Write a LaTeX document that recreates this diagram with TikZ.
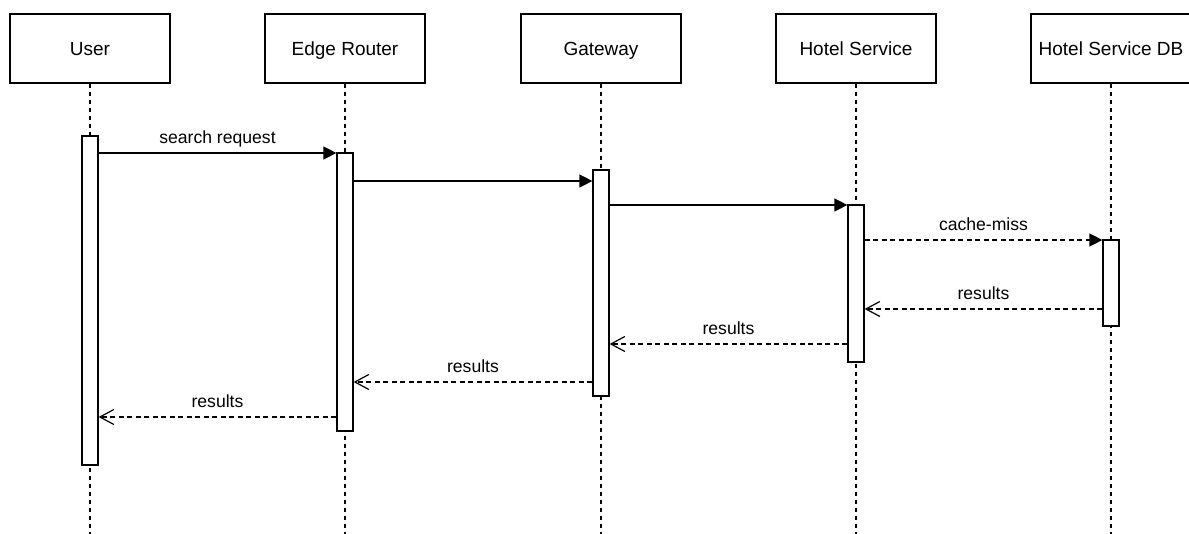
\documentclass[tikz,border=0pt]{standalone}
\usepackage{fontspec}
\setmainfont{Liberation Sans}
\usetikzlibrary{arrows.meta}

\begin{document}
\begin{tikzpicture}[x=1pt,y=-1pt,line width=1.2pt]
\tikzstyle{actor}=[draw,minimum width=160pt,minimum height=69pt,inner sep=0pt,font=\fontsize{19}{22}\selectfont,text height=14pt,text depth=0pt]
\tikzstyle{bar}=[draw,fill=white,minimum width=16pt,inner sep=0pt]
\tikzstyle{lifeline}=[dash pattern=on 4pt off 4pt]
\tikzstyle{msg}=[-{Triangle[length=13pt,width=13pt]}]
\tikzstyle{call}=[msg,dash pattern=on 5pt off 3.5pt]
\tikzstyle{reply}=[-{Straight Barb[length=14pt,width=15pt]},dash pattern=on 5pt off 3.5pt]
\tikzstyle{lbl}=[anchor=base,yshift=9pt,inner sep=0pt,font=\fontsize{17.6}{20}\selectfont]
\clip (0,0) rectangle (1189,534);
% actors
\node[actor] (user) at (90,48.5) {User};
\node[actor] (router) at (345,48.5) {Edge Router};
\node[actor] (gateway) at (601,48.5) {Gateway};
\node[actor] (hotel) at (856,48.5) {Hotel Service};
\node[actor] (hoteldb) at (1111,48.5) {Hotel Service DB};
\coordinate (bottom) at (0,534);
\foreach \n in {user,router,gateway,hotel,hoteldb}
  \draw[lifeline] (\n.south) -- (\n.south |- bottom);
% activations
\node[bar,minimum height=329pt] (ubar) at (90,300.5) {};
\node[bar,minimum height=278pt] (rbar) at (345,292) {};
\node[bar,minimum height=226pt] (gbar) at (601,283) {};
\node[bar,minimum height=157pt] (hbar) at (856,283.5) {};
\node[bar,minimum height=86pt] (dbar) at (1111,283) {};
% message levels
\coordinate (m1) at (0,153);
\coordinate (m2) at (0,181);
\coordinate (m3) at (0,205);
\coordinate (m4) at (0,240);
\coordinate (m5) at (0,309);
\coordinate (m6) at (0,344);
\coordinate (m7) at (0,382);
\coordinate (m8) at (0,417);
% messages
\draw[msg] (ubar.east |- m1) -- node[lbl] {search request} (rbar.west |- m1);
\draw[msg] (rbar.east |- m2) -- (gbar.west |- m2);
\draw[msg] (gbar.east |- m3) -- (hbar.west |- m3);
\draw[call] (hbar.east |- m4) -- node[lbl] {cache-miss} (dbar.west |- m4);
\draw[reply] (dbar.west |- m5) -- node[lbl] {results} (hbar.east |- m5);
\draw[reply] (hbar.west |- m6) -- node[lbl] {results} (gbar.east |- m6);
\draw[reply] (gbar.west |- m7) -- node[lbl] {results} (rbar.east |- m7);
\draw[reply] (rbar.west |- m8) -- node[lbl] {results} (ubar.east |- m8);
\end{tikzpicture}
\end{document}
